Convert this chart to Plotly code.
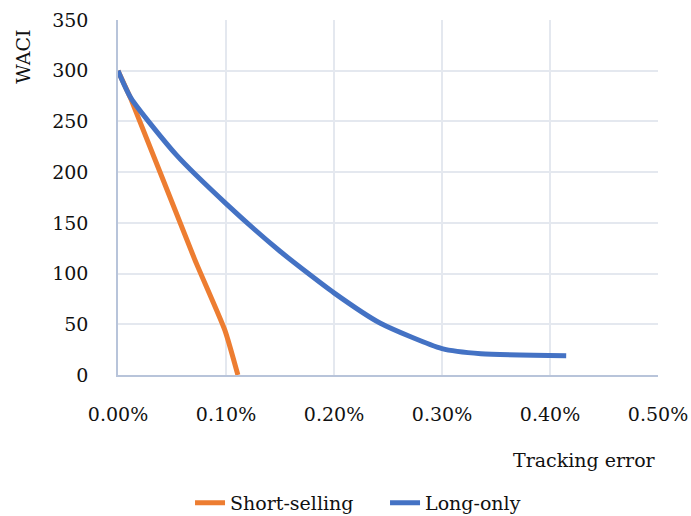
import plotly.graph_objects as go

# Tracking error (as a fraction) vs. WACI for the two portfolio constructions
short_te = [0.0, 0.00012, 0.00071, 0.00099, 0.00111]
short_waci = [300, 272, 114, 44, 0]

long_te = [0.0, 0.00012, 0.00054, 0.0010, 0.0015, 0.0020, 0.00243, 0.0030, 0.00336, 0.00415]
long_waci = [300, 273, 217, 169, 122, 81, 51, 26, 21, 19]

x_ticks = [0.0, 0.001, 0.002, 0.003, 0.004, 0.005]
y_ticks = [0, 50, 100, 150, 200, 250, 300, 350]

FONT = "DejaVu Serif"
GRID = "#e4e8ef"
AXIS = "#b8c4da"

fig = go.Figure()
fig.add_trace(go.Scatter(
    x=short_te, y=short_waci, mode="lines", name="Short-selling",
    line=dict(color="#ED7D31", width=5, shape="spline", smoothing=0.5),
))
fig.add_trace(go.Scatter(
    x=long_te, y=long_waci, mode="lines", name="Long-only",
    line=dict(color="#4472C4", width=5, shape="spline", smoothing=0.6),
))

fig.update_layout(
    width=691, height=516,
    margin=dict(l=118, r=33, t=20, b=141, autoexpand=False),
    paper_bgcolor="white", plot_bgcolor="white",
    font=dict(family=FONT, size=19, color="#111111"),
    showlegend=True,
    legend=dict(
        orientation="h", xref="container", yref="paper",
        x=0.275, xanchor="left", y=-0.36, yanchor="middle",
        font=dict(family=FONT, size=19), itemwidth=30,
        entrywidth=150, tracegroupgap=0,
    ),
    xaxis=dict(
        range=[0, 0.005], tickvals=x_ticks, tickformat=".2%",
        showgrid=True, gridcolor=GRID, gridwidth=1.5,
        showline=True, linecolor=AXIS, linewidth=1.5,
        zeroline=False, ticks="", ticklabelstandoff=21, automargin=False,
    ),
    yaxis=dict(
        range=[0, 350], tickvals=y_ticks,
        showgrid=True, gridcolor=GRID, gridwidth=1.5,
        showline=True, linecolor=AXIS, linewidth=1.5,
        zeroline=False, ticks="", ticklabelstandoff=24, automargin=False,
    ),
    annotations=[
        dict(text="Tracking error", xref="paper", yref="paper",
             x=1.0, y=-0.24, xanchor="right", yanchor="middle",
             showarrow=False, font=dict(family=FONT, size=19)),
        dict(text="WACI", xref="paper", yref="paper",
             x=-0.175, y=0.895, xanchor="center", yanchor="middle",
             textangle=-90, showarrow=False, font=dict(family=FONT, size=19)),
    ],
)

fig.write_html("out.html")
